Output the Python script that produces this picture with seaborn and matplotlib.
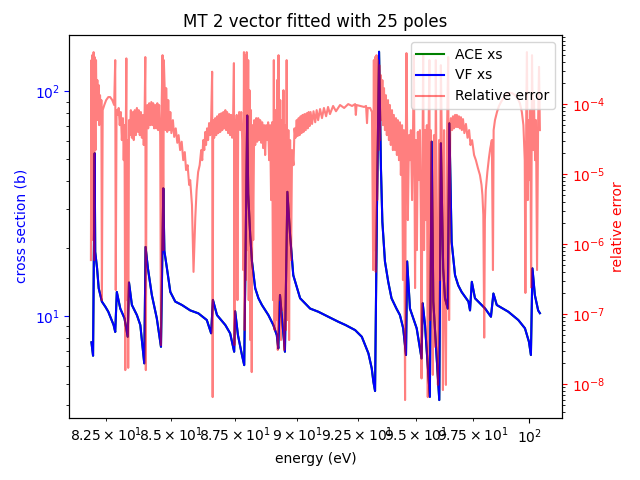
import matplotlib
matplotlib.use("Agg")
import matplotlib.pyplot as plt
import seaborn as sns
import numpy as np
import pandas as pd

# ---------------- data ----------------
xs_energy = [81.97, 82.03, 82.09, 82.11, 82.18, 82.24, 82.36, 82.49, 82.60, 82.80, 82.86,
             82.92, 83.05, 83.21, 83.33, 83.38, 83.49, 83.68, 83.81, 83.96, 84.01,
             84.10, 84.25, 84.44, 84.60, 84.69, 84.73, 84.83, 84.96, 85.15, 85.41,
             85.73, 86.05, 86.38, 86.55, 86.62, 86.78, 87.11, 87.30, 87.46, 87.50,
             87.61, 87.77, 87.86, 87.98, 88.02, 88.10, 88.17, 88.30, 88.43, 88.57, 88.83, 89.03,
             89.17, 89.23, 89.30, 89.50, 89.60, 89.71, 89.84, 90.12, 90.53, 90.87, 91.28, 91.70,
             92.00, 92.40, 92.68, 92.82, 92.96, 93.10, 93.17, 93.24, 93.32, 93.41, 93.49, 93.55,
             93.66, 93.80, 93.94, 94.15, 94.30,
             94.44, 94.56, 94.61, 94.73, 95.02, 95.23, 95.28, 95.38, 95.59, 95.67,
             95.74, 95.88, 96.00, 96.07, 96.17, 96.25, 96.37, 96.44, 96.54, 96.69, 96.83,
             96.98, 97.28, 97.35, 97.43, 97.57, 98.02, 98.28, 98.39, 98.54, 99.06,
             99.51, 99.81, 99.99, 100.08, 100.15, 100.26, 100.41, 100.49]
vf_xs = [7.64, 6.66, 53.0, 19.3, 16.3, 13.3, 11.6, 11.0, 10.45, 9.12, 8.5,
         12.8, 10.8, 9.77, 8.09, 14.1, 11.2, 10.1, 9.12, 6.16, 20.3,
         16.3, 12.4, 9.77, 7.3, 37.0, 19.5, 16.3, 12.8, 11.6, 11.2,
         10.6, 10.28, 9.6, 8.38, 11.8, 10.1, 9.12, 8.38, 6.94, 10.5,
         8.23, 6.71, 6.05, 78.0, 35.0, 22.9, 17.5, 13.3, 12.0, 11.2, 10.1, 9.12,
         8.23, 7.18, 12.4, 6.94, 35.7, 22.9, 15.2, 12.0, 10.8, 10.45, 9.93, 9.43,
         9.12, 8.66, 8.09, 7.43, 6.82, 5.85, 5.1, 4.64, 30.0, 150.0, 45.4, 26.3,
         17.5, 14.2, 12.0, 10.8, 10.1,
         8.82, 6.71, 17.5, 10.8, 8.82, 6.48, 11.4, 9.12, 4.37, 59.7,
         11.6, 6.71, 4.23, 58.7, 16.3, 12.0, 10.8, 72.0, 21.4, 15.2, 13.7,
         12.8, 11.6, 10.6, 14.2, 12.0, 10.8, 9.93, 12.6, 11.2, 10.45,
         9.6, 8.82, 7.69, 6.71, 16.3, 12.4, 10.6, 10.3]
ace_xs = list(vf_xs)

err_energy = [
    81.95, 81.97, 81.99, 82.00, 82.03, 82.05, 82.07, 82.09, 82.12, 82.14,
    82.16, 82.19, 82.21, 82.24, 82.26, 82.29, 82.32, 82.34, 82.36, 82.39,
    82.45, 82.52, 82.60, 82.67, 82.75, 82.82, 82.86, 82.88, 82.91, 82.96,
    82.99, 83.03, 83.07, 83.11, 83.15, 83.18, 83.21, 83.24, 83.26, 83.28,
    83.30, 83.33, 83.35, 83.38, 83.41, 83.45, 83.49, 83.53, 83.56, 83.60,
    83.64, 83.68, 83.72, 83.75, 83.79, 83.83, 83.87, 83.91, 83.94, 83.97,
    84.00, 84.02, 84.05, 84.08, 84.11, 84.15, 84.19, 84.23, 84.27, 84.30,
    84.34, 84.38, 84.42, 84.46, 84.49, 84.53, 84.57, 84.60, 84.63, 84.66,
    84.69, 84.71, 84.75, 84.78, 84.80, 84.84, 84.88, 84.92, 84.96, 85.00,
    85.06, 85.11, 85.17, 85.23, 85.28, 85.34, 85.40, 85.46, 85.52, 85.57,
    85.63, 85.69, 85.73, 85.80, 85.86, 85.93, 85.98, 86.04, 86.10, 86.16,
    86.20, 86.24, 86.28, 86.32, 86.35, 86.39, 86.43, 86.47, 86.51, 86.55,
    86.59, 86.61, 86.63, 86.67, 86.71, 86.75, 86.79, 86.83, 86.87, 86.91,
    86.95, 86.99, 87.03, 87.07, 87.11, 87.14, 87.18, 87.22, 87.26, 87.30,
    87.34, 87.38, 87.42, 87.45, 87.47, 87.49, 87.52, 87.56, 87.59, 87.62,
    87.66, 87.70, 87.74, 87.78, 87.82, 87.85, 87.88, 87.90, 87.93, 87.96,
    87.99, 88.02, 88.04, 88.07, 88.10, 88.13, 88.16, 88.19, 88.22, 88.26,
    88.30, 88.34, 88.38, 88.42, 88.46, 88.50, 88.54, 88.58, 88.62, 88.66,
    88.70, 88.74, 88.78, 88.82, 88.86, 88.90, 88.94, 88.98, 89.02, 89.05,
    89.08, 89.12, 89.15, 89.18, 89.21, 89.24, 89.28, 89.31, 89.34, 89.37,
    89.41, 89.44, 89.47, 89.51, 89.54, 89.57, 89.60, 89.64, 89.67, 89.71,
    89.75, 89.79, 89.85, 89.89, 89.93, 89.98, 90.02, 90.06, 90.10, 90.14,
    90.18, 90.22, 90.26, 90.30, 90.35, 90.39, 90.43, 90.47, 90.51, 90.55,
    90.61, 90.67, 90.74, 90.80, 90.86, 90.94, 91.02, 91.10, 91.19, 91.27,
    91.35, 91.48, 91.60, 91.77, 91.94, 92.11, 92.27, 92.40, 92.43, 92.46,
    92.61, 92.78, 92.86, 92.90, 92.93, 93.03, 93.11, 93.16, 93.19, 93.21,
    93.24, 93.27, 93.30, 93.33, 93.36, 93.39, 93.42, 93.45, 93.48, 93.52,
    93.55, 93.58, 93.62, 93.66, 93.70, 93.74, 93.79, 93.83, 93.87, 93.91,
    93.96, 94.00, 94.04, 94.09, 94.13, 94.17, 94.21, 94.26, 94.30, 94.34,
    94.39, 94.43, 94.47, 94.52, 94.55, 94.58, 94.61, 94.64, 94.69, 94.73,
    94.77, 94.82, 94.86, 94.90, 94.95, 94.99, 95.03, 95.07, 95.12, 95.16,
    95.20, 95.23, 95.27, 95.30, 95.34, 95.38, 95.42, 95.46, 95.50, 95.53,
    95.57, 95.60, 95.63, 95.68, 95.72, 95.77, 95.81, 95.85, 95.90, 95.94,
    95.99, 96.03, 96.07, 96.12, 96.16, 96.21, 96.25, 96.29, 96.34, 96.39,
    96.43, 96.48, 96.51, 96.56, 96.60, 96.64, 96.69, 96.73, 96.77, 96.81,
    96.86, 96.90, 96.95, 96.99, 97.04, 97.10, 97.17, 97.24, 97.31, 97.37,
    97.44, 97.53, 97.61, 97.70, 97.79, 97.86, 97.90, 97.94, 97.98, 98.01,
    98.05, 98.12, 98.19, 98.25, 98.32, 98.37, 98.40, 98.46, 98.55, 98.64,
    98.73, 98.84, 98.95, 99.09, 99.22, 99.36, 99.47, 99.58, 99.67, 99.74,
    99.80, 99.83, 99.87, 99.90, 99.94, 99.98, 100.01, 100.05, 100.09, 100.13,
    100.18, 100.22, 100.27, 100.31, 100.36, 100.41, 100.45, 100.49]
rel_error = [
    5.9e-7, 4.25e-4, 1.14e-6, 5.0e-4, 4.25e-6, 5.53e-4, 5.9e-7, 4.7e-4, 2.2e-5, 4.25e-4,
    8.2e-5, 2.2e-4, 5.9e-5, 1.87e-4, 5.0e-5, 1.34e-4, 5.9e-5, 1.14e-4, 1.58e-7, 8.2e-5,
    9.7e-5, 1.14e-4, 1.26e-4, 1.26e-4, 1.14e-4, 9.7e-5, 4.25e-4, 2.2e-7, 8.2e-5, 7.0e-5,
    8.8e-5, 5.0e-5, 7.7e-5, 3.06e-5, 6.3e-5, 1.58e-5, 5.0e-5, 1.58e-8, 4.25e-5, 4.5e-4,
    1.58e-7, 3.06e-5, 1.7e-8, 5.9e-5, 3.6e-5, 8.2e-5, 3.3e-5, 7.7e-5, 3.06e-5, 8.2e-5,
    3.6e-5, 8.8e-5, 4.0e-5, 8.2e-5, 3.6e-5, 7.7e-5, 3.3e-5, 7.0e-5, 2.6e-5, 5.9e-5,
    4.7e-4, 1.58e-8, 5.0e-5, 9.7e-5, 4.5e-5, 1.03e-4, 5.0e-5, 1.07e-4, 5.0e-5, 1.03e-4,
    4.5e-5, 9.7e-5, 4.5e-5, 1.03e-4, 4.25e-5, 9.7e-5, 3.6e-5, 3.6e-8, 1.14e-4, 5.0e-4,
    8.2e-7, 4.25e-4, 1.34e-4, 4.25e-5, 1.69e-4, 4.0e-5, 1.14e-4, 4.25e-5, 7.7e-5, 3.85e-5,
    5.9e-5, 3.4e-5, 4.5e-5, 2.8e-5, 3.6e-5, 2.2e-5, 2.9e-5, 1.58e-5, 2.06e-5, 1.14e-5,
    1.34e-5, 7.0e-6, 8.2e-6, 3.6e-6, 4.0e-7, 2.4e-6, 5.9e-6, 1.07e-5, 1.34e-5, 2.2e-5,
    1.58e-5, 3.06e-5, 2.2e-5, 4.0e-5, 2.6e-5, 4.5e-5, 3.06e-5, 5.35e-5, 3.6e-5, 5.9e-5,
    2.9e-4, 6.5e-9, 5.9e-5, 3.3e-5, 6.3e-5, 3.6e-5, 6.7e-5, 3.85e-5, 7.2e-5, 4.0e-5,
    7.4e-5, 4.25e-5, 7.7e-5, 4.5e-5, 8.2e-5, 4.25e-5, 7.7e-5, 3.85e-5, 7.2e-5, 3.6e-5,
    7.0e-5, 3.3e-5, 6.3e-5, 3.85e-4, 3.6e-8, 5.9e-5, 3.06e-5, 7.0e-5, 1.58e-7, 5.0e-5,
    7.7e-5, 4.25e-5, 7.7e-5, 3.06e-5, 4.25e-7, 5.53e-4, 5.9e-8, 5.0e-4, 3.06e-7, 5.53e-4,
    8.2e-7, 4.25e-4, 1.58e-7, 1.58e-4, 4.25e-8, 8.2e-5, 1.48e-8, 5.0e-5, 1.14e-6, 5.9e-5,
    2.6e-5, 6.3e-5, 2.9e-5, 6.3e-5, 3.06e-5, 5.9e-5, 2.8e-5, 5.5e-5, 2.35e-5, 5.0e-5,
    1.87e-5, 5.0e-5, 3.06e-5, 5.5e-5, 1.58e-5, 5.0e-5, 4.25e-6, 5.5e-5, 1.58e-7, 4.25e-4,
    5.9e-8, 8.2e-5, 8.2e-8, 2.2e-4, 3.06e-8, 5.0e-4, 1.58e-7, 1.14e-4, 4.25e-8, 5.9e-5,
    1.14e-7, 1.58e-4, 3.06e-8, 5.0e-5, 5.9e-8, 4.25e-4, 8.2e-8, 4.25e-5, 4.25e-8, 3.06e-5,
    5.9e-7, 2.2e-5, 1.34e-5, 4.5e-5, 3.3e-5, 5.9e-5, 3.5e-5, 6.3e-5, 3.6e-5, 6.7e-5,
    3.85e-5, 7.0e-5, 4.0e-5, 7.2e-5, 4.25e-5, 7.4e-5, 4.5e-5, 7.7e-5, 4.85e-5, 7.7e-5,
    5.2e-5, 7.9e-5, 5.5e-5, 8.2e-5, 5.9e-5, 8.5e-5, 6.3e-5, 8.8e-5, 6.7e-5, 9.1e-5,
    7.2e-5, 9.4e-5, 7.9e-5, 9.7e-5, 8.8e-5, 1.0e-4, 9.4e-5, 1.0e-4, 7.0e-5, 9.7e-5,
    9.4e-5, 9.1e-5, 9.4e-5, 5.35e-5, 8.8e-5, 8.8e-5, 7.7e-5, 4.25e-7, 4.25e-4, 8.2e-7,
    4.7e-4, 4.0e-7, 5.0e-4, 4.25e-6, 4.25e-4, 2.2e-5, 3.6e-4, 3.06e-5, 2.6e-4, 5.9e-5,
    2.2e-4, 5.0e-5, 1.69e-4, 4.25e-5, 1.34e-4, 3.6e-5, 1.14e-4, 3.06e-5, 9.7e-5, 2.6e-5,
    8.2e-5, 2.2e-5, 7.0e-5, 2.2e-5, 6.3e-5, 1.87e-5, 5.9e-5, 1.58e-5, 5.5e-5, 9.7e-6,
    5.0e-5, 3.06e-7, 4.25e-5, 5.9e-9, 2.2e-5, 5.35e-4, 3.06e-5, 2.2e-6, 3.6e-5, 1.58e-5,
    4.25e-5, 4.25e-6, 3.6e-5, 5.0e-4, 2.35e-7, 3.06e-5, 8.2e-7, 4.0e-5, 8.2e-6, 4.25e-5,
    2.2e-6, 1.2e-8, 1.58e-5, 5.0e-4, 8.2e-7, 4.25e-5, 2.2e-6, 5.0e-5, 6.5e-9, 3.06e-5,
    4.25e-4, 8.2e-8, 4.25e-5, 8.2e-7, 1.35e-8, 3.6e-5, 3.4e-8, 4.25e-4, 1.58e-7, 9.7e-9,
    3.06e-5, 3.06e-7, 3.6e-4, 1.58e-5, 8.2e-9, 4.25e-5, 1.58e-7, 9.7e-9, 4.25e-5, 4.7e-4,
    8.2e-8, 5.0e-5, 6.3e-5, 4.25e-5, 6.7e-5, 4.5e-5, 7.0e-5, 4.7e-5, 7.0e-5, 4.7e-5,
    6.7e-5, 4.5e-5, 6.5e-5, 4.25e-5, 6.1e-5, 3.85e-5, 5.2e-5, 3.3e-5, 4.25e-5, 2.6e-5,
    3.06e-5, 1.87e-5, 1.58e-5, 1.22e-5, 9.7e-6, 7.0e-6, 5.0e-6, 2.6e-6, 4.6e-8, 2.2e-6,
    5.9e-6, 1.07e-5, 1.7e-5, 2.35e-5, 3.06e-5, 4.25e-7, 4.25e-5, 5.9e-5, 7.7e-5, 9.4e-5,
    1.07e-4, 1.22e-4, 1.34e-4, 1.44e-4, 1.44e-4, 1.34e-4, 1.22e-4, 1.03e-4, 7.7e-5, 5.0e-5,
    1.58e-5, 2.0e-7, 8.2e-5, 5.53e-4, 4.25e-6, 5.9e-5, 8.2e-6, 8.2e-5, 2.4e-7, 5.0e-4,
    2.2e-5, 1.14e-4, 1.58e-5, 5.9e-5, 4.25e-7, 5.9e-5, 3.4e-4, 4.25e-5]

title = "MT 2 vector fitted with 25 poles"
xlabel = "energy (eV)"
ylabel_left = "cross section (b)"
ylabel_right = "relative error"
labels = ["ACE xs", "VF xs", "Relative error"]

# ---------------- plotting ----------------
xs_df = pd.DataFrame({"E": xs_energy, "ace": ace_xs, "vf": vf_xs})
err_df = pd.DataFrame({"E": err_energy, "err": rel_error})

fig, ax1 = plt.subplots(figsize=(6.4, 4.8), dpi=100)
ax2 = ax1.twinx()

sns.lineplot(data=xs_df, x="E", y="ace", ax=ax1, color="g", label=labels[0],
             estimator=None, sort=False, linewidth=1.5)
sns.lineplot(data=xs_df, x="E", y="vf", ax=ax1, color="b", label=labels[1],
             estimator=None, sort=False, linewidth=1.5)
sns.lineplot(data=err_df, x="E", y="err", ax=ax2, color="r", alpha=0.5,
             label=labels[2], estimator=None, sort=False, linewidth=1.5)

ax1.set_xscale("log")
ax1.set_yscale("log")
ax2.set_yscale("log")

ax1.set_xlim(81.15, 101.5)
ax1.set_ylim(3.53, 178)
ax2.set_ylim(3.3e-9, 9.7e-4)

ax1.set_title(title)
ax1.set_xlabel(xlabel)
ax1.set_ylabel(ylabel_left, color="b")
ax2.set_ylabel(ylabel_right, color="r")
ax1.tick_params("y", colors="b")
ax2.tick_params("y", colors="r")

h1, l1 = ax1.get_legend_handles_labels()
h2, l2 = ax2.get_legend_handles_labels()
if ax1.get_legend() is not None:
    ax1.get_legend().remove()
ax2.legend(h1 + h2, l1 + l2, loc="upper right")

fig.subplots_adjust(left=0.1083, right=0.878, top=0.927, bottom=0.1298)
fig.savefig("out.png", dpi=100)
